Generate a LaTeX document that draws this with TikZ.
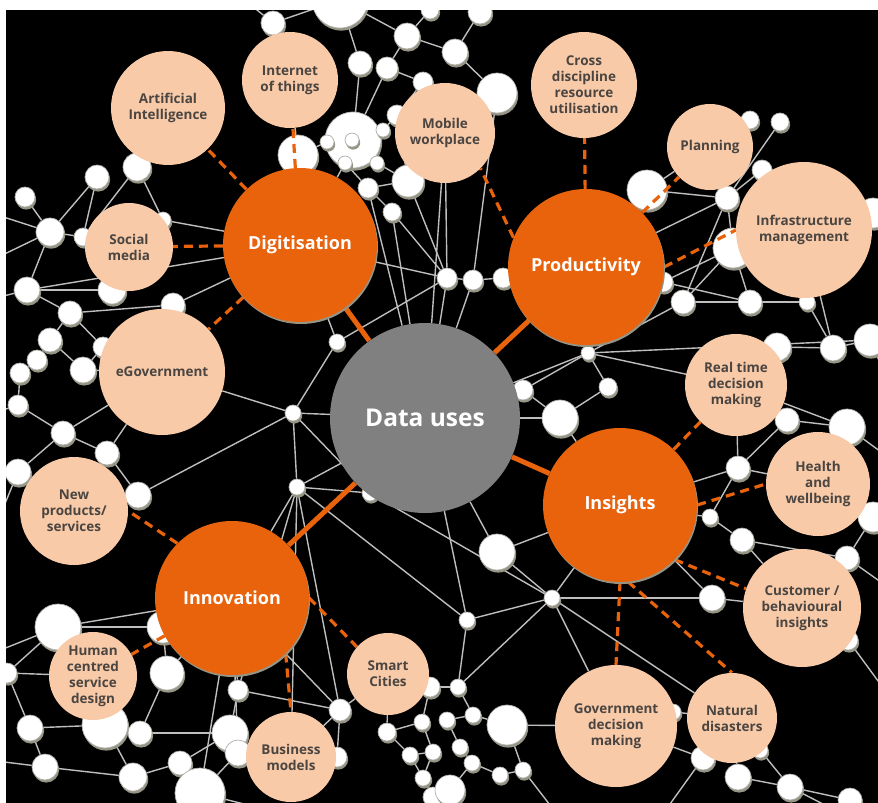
\documentclass[tikz,border=0pt]{standalone}
\usepackage{fontspec}
\setmainfont{Open Sans}
\usetikzlibrary{shadows}

\definecolor{useorange}{RGB}{233,99,12}
\definecolor{peach}{RGB}{248,202,168}
\definecolor{datagrey}{RGB}{128,128,128}
\definecolor{topictext}{RGB}{74,69,65}
\definecolor{linkgrey}{RGB}{190,190,190}
\definecolor{ballshade}{RGB}{150,148,132}
\definecolor{ballrim}{RGB}{175,175,170}

\pgfdeclarelayer{back}
\pgfdeclarelayer{edges}
\pgfdeclarelayer{front}
\pgfsetlayers{back,edges,main,front}

\tikzset{
  sphere/.style={circle, fill=white, draw=ballrim, line width=0.7pt, inner sep=0pt,
    drop shadow={shadow xshift=1.2pt, shadow yshift=-2.6pt, fill=ballshade, opacity=1}},
  hub/.style={circle, fill=datagrey, text=white, inner sep=0pt, minimum size=190pt,
    font=\bfseries\fontsize{24.5}{28}\selectfont},
  theme/.style={circle, fill=useorange, text=white, inner sep=0pt, minimum size=154pt,
    font=\bfseries\fontsize{18}{22}\selectfont,
    drop shadow={shadow xshift=1pt, shadow yshift=-2pt, fill=ballshade, opacity=1}},
  topic/.style={circle, fill=peach, text=topictext, inner sep=0pt, align=center,
    font=\bfseries\fontsize{13.5}{16}\selectfont},
  link/.style={draw=linkgrey, line width=1.4pt},
  tie/.style={draw=useorange, line width=5pt},
  dashlink/.style={draw=useorange, line width=3.2pt, dash pattern=on 9pt off 6pt},
}

\begin{document}
\begin{tikzpicture}[x=1pt,y=-1pt]
\useasboundingbox (0,0) rectangle (878,803);
\begin{pgfonlayer}{back}
  \fill[white] (0,0) rectangle (878,803);
  \fill[black] (6,10) rectangle (878,803);
\end{pgfonlayer}

% small white balls of the network (name/x/y/radius)
\foreach \n/\x/\y/\r in {1/340/0/28, 2/273/23/12, 3/407/36/13, 4/455/52/13, 5/480/12/12,
    6/430/10/9, 7/360/63/12, 8/387/68/11, 9/423/82/10, 10/397/115/10, 11/353/140/28,
    12/327/142/7, 13/352/140/7, 14/345/163/7, 15/377/163/7, 16/383/130/7, 17/298/155/20,
    18/408/181/16, 19/368/188/10, 20/392/212/9, 21/497/93/20, 22/750/120/9, 23/780/122/9,
    24/647/190/20, 25/762/170/10, 26/727/198/12, 27/733/248/20, 28/873/213/15,
    29/137/167/14, 30/97/177/12, 31/25/197/10, 32/50/232/14, 33/83/237/9, 34/163/220/8,
    35/27/290/13, 36/112/290/14, 37/70/313/12, 38/173/305/12, 39/50/340/12, 40/37/360/10,
    41/20/373/10, 42/83/370/13, 43/337/342/8, 44/103/347/10, 45/447/278/10, 46/473/280/10,
    47/503/278/10, 48/663/282/10, 49/683/302/12, 50/750/302/12, 51/807/302/8,
    52/870/340/16, 53/833/348/13, 54/777/347/14, 55/588/353/7, 56/523/390/10,
    57/608/387/9, 58/293/413/8, 59/63/433/12, 60/107/453/12, 61/18/472/13, 62/138/495/13,
    63/297/487/8, 64/370/493/8, 65/58/627/23, 66/163/627/16, 67/167/673/17, 68/238/690/10,
    69/340/710/11, 70/7/673/10, 71/30/728/13, 72/105/725/23, 73/140/733/12, 74/230/733/18,
    75/238/753/13, 76/45/767/13, 77/133/777/14, 78/180/763/12, 79/200/793/25,
    80/337/757/10, 81/387/732/9, 82/422/722/8, 83/410/755/8, 84/433/752/8, 85/423/778/8,
    86/433/797/10, 87/430/687/10, 88/560/418/18, 89/497/552/18, 90/552/598/8,
    91/467/620/8, 92/738/468/12, 93/710/517/8, 94/742/540/12, 95/712/598/13,
    96/847/427/18, 97/787/420/12, 98/873/517/15, 99/847/558/12, 100/848/640/10,
    101/458/687/8, 102/447/720/8, 103/473/715/8, 104/507/725/20, 105/460/747/8,
    106/472/763/8, 107/500/775/8, 108/523/770/8, 109/450/790/15, 110/673/712/8,
    111/703/758/12, 112/738/777/13, 113/790/787/13, 114/760/750/8, 115/18/405/10,
    116/850/800/12,
    120/-12/212/8, 121/-12/262/8, 122/-12/300/8, 123/-12/415/8, 124/-12/545/8,
    125/-12/655/8, 126/-12/760/8, 127/892/255/8, 128/892/390/8, 129/892/460/8,
    130/892/590/8, 131/892/700/8, 132/300/818/8, 133/560/818/8, 134/660/818/8,
    135/850/818/8, 136/540/-12/8, 137/230/-12/8}
  \node[sphere, minimum size=2*\r*1pt] (s\n) at (\x,\y) {};

\begin{pgfonlayer}{front}
  % centre and the four main uses
  \node[hub] (DataUses) at (425,418) {Data uses};
  \node[theme] (Digitisation) at (300,245) {Digitisation};
  \node[theme, minimum size=156pt] (Productivity) at (586,267) {Productivity};
  \node[theme] (Insights) at (620,505) {Insights};
  \node[theme] (Innovation) at (232,598) {Innovation};

  % topics around them
  \node[topic, minimum size=114pt] (ArtificialIntelligence) at (168,108) {Artificial\\Intelligence};
  \node[topic, minimum size=96pt] (InternetOfThings) at (290,80) {Internet\\of things};
  \node[topic, minimum size=100pt] (MobileWorkplace) at (445,133) {Mobile\\workplace};
  \node[topic, minimum size=106pt] (CrossDiscipline) at (584,85) {Cross\\discipline\\resource\\utilisation};
  \node[topic, minimum size=86pt] (Planning) at (710,147) {Planning};
  \node[topic, minimum size=136pt] (Infrastructure) at (804,230) {Infrastructure\\management};
  \node[topic, minimum size=88pt] (SocialMedia) at (129,247) {Social\\media};
  \node[topic, minimum size=126pt] (EGovernment) at (162,372) {eGovernment};
  \node[topic, minimum size=102pt] (RealTime) at (736,385) {Real time\\decision\\making};
  \node[topic, minimum size=104pt] (Health) at (818,484) {Health\\and\\wellbeing};
  \node[topic, minimum size=118pt] (Customer) at (802,608) {Customer /\\behavioural\\insights};
  \node[topic, minimum size=122pt] (GovDecision) at (616,726) {Government\\decision\\making};
  \node[topic, minimum size=90pt] (NaturalDisasters) at (732,718) {Natural\\disasters};
  \node[topic, minimum size=108pt] (NewProducts) at (74,511) {New\\products/\\services};
  \node[topic, minimum size=88pt] (HumanCentred) at (93,676) {Human\\centred\\service\\design};
  \node[topic, minimum size=90pt] (BusinessModels) at (291,757) {Business\\models};
  \node[topic, minimum size=82pt] (SmartCities) at (388,674) {Smart\\Cities};
\end{pgfonlayer}

% grey network links
\begin{pgfonlayer}{edges}
\foreach \a/\b in {s1/s2, s1/s7, s1/s3, s137/s2, s2/InternetOfThings, s3/s6, s3/s8, s3/s4,
    s4/s5, s4/s21, s5/s136, s6/s1, s7/s11, s8/s11, s8/s9, s9/s10, s10/s16, s10/s18,
    s11/s12, s11/s13, s12/s14, s13/s14, s13/s16, s14/s15, s15/s16, s15/s18, s14/s19,
    s12/s17, s18/s19, s19/s20, s18/s45, s19/DataUses, s20/DataUses, s20/s45,
    s14/Digitisation, s17/InternetOfThings, s21/s46, s21/MobileWorkplace,
    s9/MobileWorkplace, MobileWorkplace/s45, MobileWorkplace/DataUses,
    s24/Planning, s24/s26, s24/Productivity, s22/Planning, s23/s26, s25/s26, s25/s27,
    s26/s27, s26/s49, s26/Productivity, s27/s48, s27/s49, s27/s50, s28/Infrastructure,
    s28/s127, s48/Productivity, s48/s50, s49/s50, s49/s55, s50/s51, s51/Infrastructure,
    s51/s53, s52/s53, s53/s54, s54/RealTime, s52/s128, s53/Infrastructure,
    s55/Productivity, s55/DataUses, s55/s56, s55/s57, s55/s52, s55/RealTime, s45/s46,
    s46/s47, s47/Productivity, s45/DataUses, s46/DataUses, s56/DataUses, s57/s88,
    s56/s88, s88/Insights, s88/DataUses, Digitisation/s45, s43/s45,
    s120/s32, s121/s32, s31/s32, s30/s32, s29/s33, s30/s33, s32/s33, s33/s34,
    s34/Digitisation, s29/s34, s32/s35, s122/s35, s35/s37, s35/Digitisation, s35/s36,
    s37/s38, s38/Digitisation, s37/s39, s37/s44, s39/s40, s40/s41, s39/s42, s44/s42,
    s42/EGovernment, s41/s115, s115/s123, s36/SocialMedia, s38/EGovernment, s43/s58,
    s43/Digitisation, EGovernment/s58,
    s58/DataUses, s58/s63, s58/s62, s59/EGovernment, s59/s60, s59/s61, s60/s62,
    s61/s124, s61/NewProducts, s62/NewProducts, s59/s115, s60/EGovernment,
    s63/Innovation, s63/DataUses, s63/s69, s63/BusinessModels, s63/s68, s63/s91,
    s63/s64, s64/DataUses, s58/s64,
    s65/s66, s65/Innovation, s65/HumanCentred, s65/s70, s65/s125, s66/s67,
    s67/Innovation, s67/s73, s70/s71, s70/HumanCentred, s71/s72, s71/s76, s72/s73,
    s72/s77, s73/s74, s74/s68, s74/s75, s74/s78, s75/s79, s76/s77, s77/s78, s78/s79,
    s76/s126, s79/s132, s68/Innovation, s68/s69, s69/Innovation, s69/BusinessModels,
    s69/SmartCities, s75/Innovation, s79/Innovation, s80/BusinessModels, s80/s69,
    s81/s82, s81/s83, s82/s87, s82/s84, s83/s84, s84/s85, s85/s86, s83/s85,
    s87/SmartCities, s81/SmartCities, s87/s101,
    s89/Insights, s89/s90, s89/DataUses, s90/Insights, s90/s91, s90/GovDecision,
    s90/NaturalDisasters, s90/s101, s90/s64, s91/s101, s91/DataUses, s92/RealTime,
    s92/Health, s92/Insights, s92/s93, s92/s97, s93/s94, s93/Insights, s94/s99,
    s94/Customer, s95/Customer, s95/Insights, s95/s90, s96/Health, s96/s97,
    s96/RealTime, s96/s129, s97/RealTime, s98/Health, s98/s99, s99/Customer,
    s99/s130, s100/s131,
    s101/s103, s102/s103, s103/s104, s102/s105, s105/s106, s106/s107, s107/s108,
    s104/s108, s106/s109, s104/GovDecision, s110/GovDecision, s110/NaturalDisasters,
    s111/NaturalDisasters, s111/GovDecision, s112/NaturalDisasters,
    s114/NaturalDisasters, s112/s113, s113/s114, s113/s135, s111/s134, s108/s133,
    s116/s113}
  \draw[link] (\a) to (\b);
\end{pgfonlayer}

% orange ties from the centre
\draw[tie] (DataUses) to (Digitisation);
\draw[tie] (DataUses) to (Productivity);
\draw[tie] (DataUses) to (Insights);
\draw[tie] (DataUses) to (Innovation);

% dashed links to the topics
\draw[dashlink] (Digitisation) to (ArtificialIntelligence);
\draw[dashlink] (Digitisation) to (InternetOfThings);
\draw[dashlink] (Digitisation) to (SocialMedia);
\draw[dashlink] (Digitisation) to (EGovernment);
\draw[dashlink] (Productivity.158) to (MobileWorkplace.-45);
\draw[dashlink] (Productivity) to (CrossDiscipline);
\draw[dashlink] (Productivity) to (Planning);
\draw[dashlink] (Productivity.east) to (Infrastructure.west);
\draw[dashlink] (Insights) to (RealTime);
\draw[dashlink] (Insights.east) to (Health.west);
\draw[dashlink] (Insights.-45) to (Customer.161);
\draw[dashlink] (Insights.south) to (GovDecision.north);
\draw[dashlink] (Insights.-84) to (NaturalDisasters.north);
\draw[dashlink] (Innovation.135) to (NewProducts.east);
\draw[dashlink] (Innovation) to (HumanCentred);
\draw[dashlink] (Innovation.-46) to (BusinessModels.north);
\draw[dashlink] (Innovation.east) to (SmartCities.139);

% white paper margin
\begin{pgfonlayer}{front}
  \fill[white] (0,0) rectangle (878,10);
  \fill[white] (0,0) rectangle (6,803);
\end{pgfonlayer}
\end{tikzpicture}
\end{document}
